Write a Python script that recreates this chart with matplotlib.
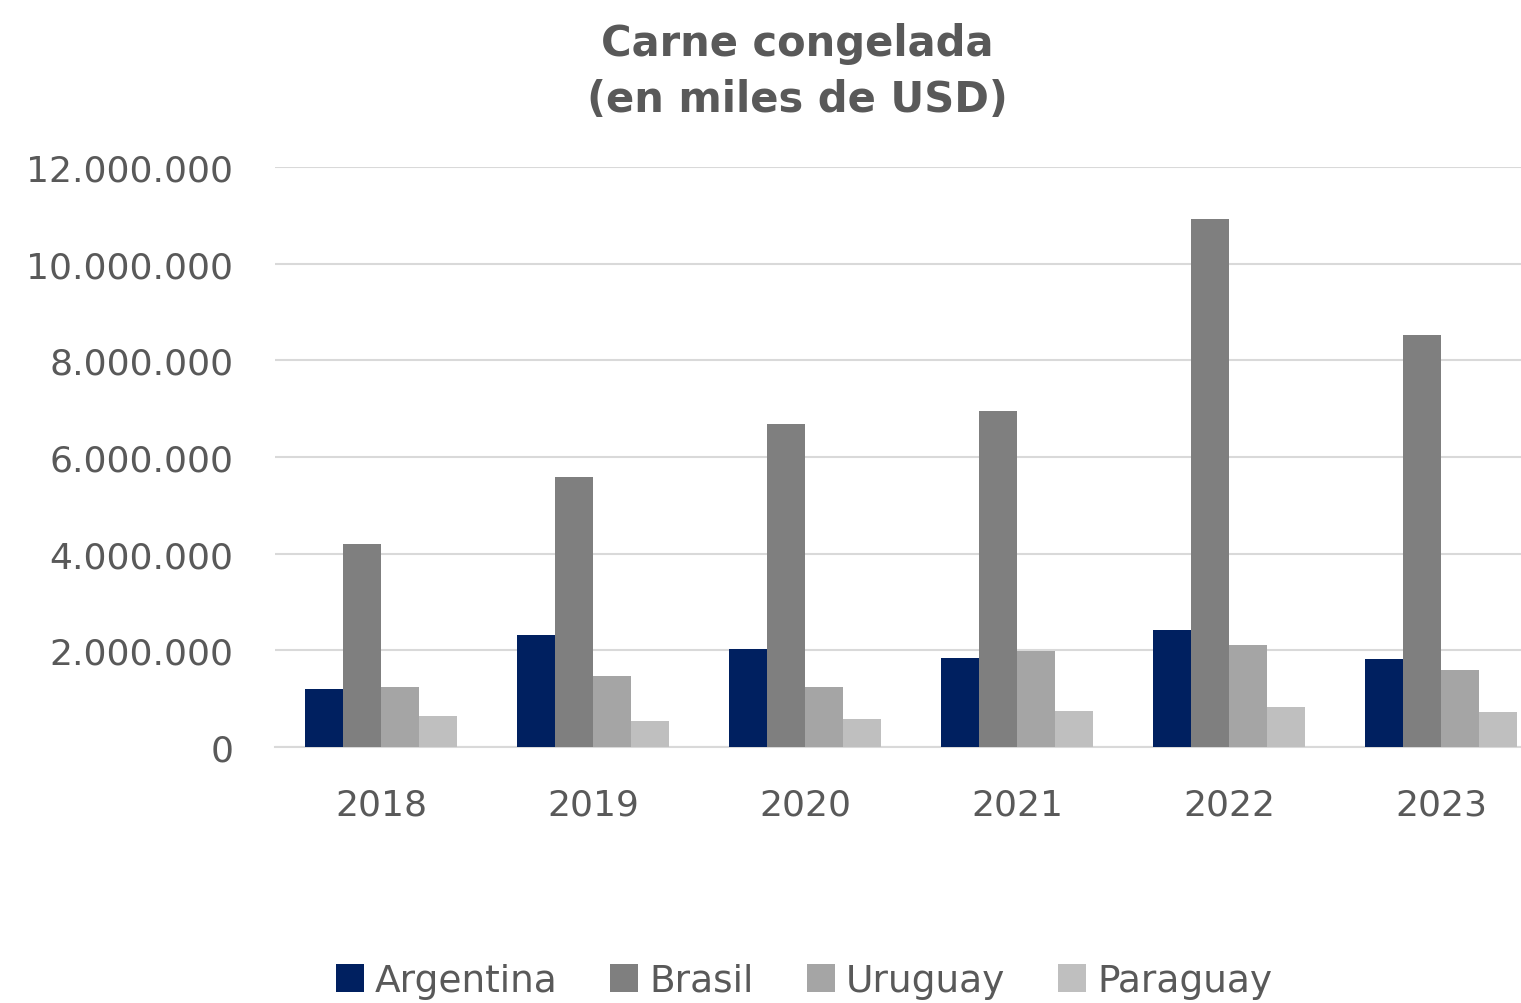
import matplotlib.pyplot as plt
import numpy as np

years = ['2018', '2019', '2020', '2021', '2022', '2023']
argentina = [1200000, 2320000, 2030000, 1840000, 2420000, 1820000]
brasil = [4200000, 5590000, 6680000, 6950000, 10920000, 8520000]
uruguay = [1240000, 1470000, 1240000, 1990000, 2110000, 1590000]
paraguay = [640000, 540000, 580000, 740000, 830000, 720000]

series = [('Argentina', argentina, '#002060'),
          ('Brasil', brasil, '#7F7F7F'),
          ('Uruguay', uruguay, '#A5A5A5'),
          ('Paraguay', paraguay, '#BFBFBF')]

txt = '#595959'
plt.rcParams['font.family'] = ['DejaVu Sans']

fig = plt.figure(figsize=(15.21, 10.04), dpi=100)
# plot area runs a bit past the right edge of the picture, as in the original
ax = fig.add_axes([275 / 1521, (1004 - 748) / 1004, 1272 / 1521, 580 / 1004])

x = np.arange(len(years))
w = 0.18
for i, (name, vals, col) in enumerate(series):
    ax.bar(x + (i - 1.5) * w, vals, width=w, color=col, label=name, zorder=3)

ax.set_xlim(-0.5, 5.5)
ax.set_ylim(0, 12000000)
ax.set_yticks(range(0, 12000001, 2000000))
ax.set_yticklabels([f'{v:,}'.replace(',', '.') for v in range(0, 12000001, 2000000)])
ax.set_xticks(x)
ax.set_xticklabels(years)
ax.grid(axis='y', color='#D9D9D9', linewidth=1.5, zorder=0)
for s in ['top', 'right', 'left']:
    ax.spines[s].set_visible(False)
ax.spines['bottom'].set_color('#D9D9D9')
ax.spines['bottom'].set_linewidth(1.5)
ax.tick_params(axis='both', length=0, labelsize=26, colors=txt, labelcolor=txt)
ax.tick_params(axis='y', pad=30)
ax.tick_params(axis='x', pad=29)

fig.text(797 / 1521, 1 - 72 / 1004, 'Carne congelada\n(en miles de USD)', ha='center', va='center',
         fontsize=30, fontweight='bold', color=txt, linespacing=1.45)

fig.legend(loc='center', bbox_to_anchor=(804 / 1521, 1 - 982 / 1004), ncol=4, frameon=False,
           fontsize=27, labelcolor=txt, handlelength=0.75, handleheight=0.75,
           handletextpad=0.3, columnspacing=1.4)

fig.savefig('out.png', dpi=100)
